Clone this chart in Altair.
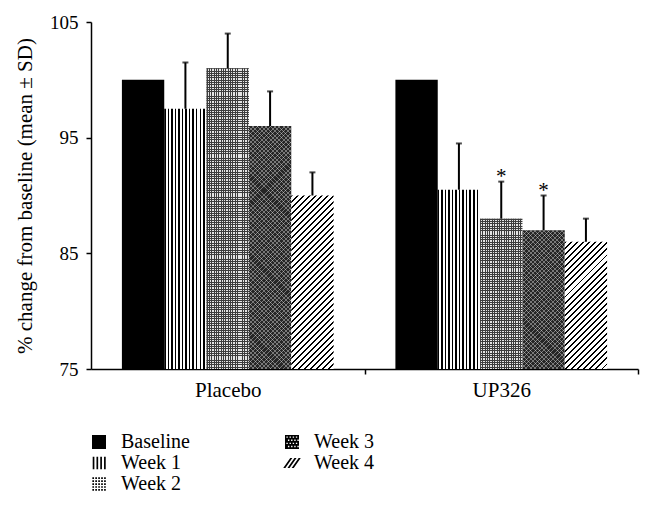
import altair as alt
import pandas as pd

# ---------------- data ----------------
groups = ["Placebo", "UP326"]
series = ["Baseline", "Week 1", "Week 2", "Week 3", "Week 4"]
placebo_mean = [100.0, 97.5, 101.0, 96.0, 90.0]
placebo_sd = [0.0, 4.0, 3.0, 3.0, 2.0]
up326_mean = [100.0, 90.5, 88.0, 87.0, 86.0]
up326_sd = [0.0, 4.0, 3.2, 3.0, 2.0]
placebo_sig = ["", "", "", "", ""]
up326_sig = ["", "", "*", "*", ""]
y_ticks = [75, 85, 95, 105]
y_title = "% change from baseline (mean ± SD)"

rows = []
for g, means, sds, sigs in [(groups[0], placebo_mean, placebo_sd, placebo_sig),
                            (groups[1], up326_mean, up326_sd, up326_sig)]:
    for s, m, sd, sig in zip(series, means, sds, sigs):
        rows.append({"group": g, "series": s, "mean": m, "sd": sd,
                     "upper": m + sd, "sig": sig})
df = pd.DataFrame(rows)

# ---------------- layout / style ----------------
FONT = "Liberation Serif"
PW, PH = 547, 347
Y0, Y1 = 75, 105
PAD_IN, PAD_OUT = 0.226, 0.113
STEP = PW / (len(groups) - PAD_IN + 2 * PAD_OUT)
BAR_W = STEP * (1 - PAD_IN) / len(series)
PX = PH / (Y1 - Y0)


def stripe_stops(n, frac, on, off):
    stops = []
    for i in range(n):
        a, b, c = i / n, (i + frac) / n, (i + 1) / n
        stops += [alt.GradientStop(color=on, offset=round(a, 5)),
                  alt.GradientStop(color=on, offset=round(b, 5)),
                  alt.GradientStop(color=off, offset=round(b, 5)),
                  alt.GradientStop(color=off, offset=round(min(c, 1.0), 5))]
    return stops


def vstripes(n, frac, on, off):
    return alt.LinearGradient(gradient="linear", stops=stripe_stops(n, frac, on, off),
                              x1=0, y1=0, x2=1, y2=0)


def hstripes(h, period, frac, on, off):
    n = max(1, round(h / period))
    return alt.LinearGradient(gradient="linear", stops=stripe_stops(n, frac, on, off),
                              x1=0, y1=0, x2=0, y2=1)


def diag(w, h, period, frac, on, off, slash=True):
    s = w + h
    d2 = w * w + h * h
    n = max(1, round(s / period))
    if slash:
        return alt.LinearGradient(gradient="linear", stops=stripe_stops(n, frac, on, off),
                                  x1=0, y1=0, x2=w * s / d2, y2=h * s / d2)
    return alt.LinearGradient(gradient="linear", stops=stripe_stops(n, frac, on, off),
                              x1=0, y1=1, x2=w * s / d2, y2=1 - h * s / d2)


# ticks sit on the boundaries between the category steps (as in the reference)
X = alt.X("group:N", sort=groups,
          scale=alt.Scale(paddingInner=PAD_IN, paddingOuter=PAD_OUT),
          axis=alt.Axis(title=None, labelAngle=0, tickOffset=STEP / 2,
                        labelOffset=-STEP / 2, labelFontSize=21, labelPadding=5))
XO = alt.XOffset("series:N", sort=series, scale=alt.Scale(paddingInner=0, paddingOuter=0))
Y = alt.Y("mean:Q", scale=alt.Scale(domain=[Y0, Y1], zero=False, nice=False),
          axis=alt.Axis(values=y_ticks, title=y_title, titleFontSize=21,
                        titleFontWeight="normal", titleX=-66, titleY=PH / 2,
                        titleBaseline="middle", titleAngle=270,
                        labelFontSize=19, labelPadding=8))

base = alt.Chart(df).encode(x=X, xOffset=XO)


def bars(filt, fill):
    return base.transform_filter(filt).mark_bar(fill=fill, strokeWidth=0).encode(
        y=Y, y2=alt.datum(Y0))


layers = []
layers.append(bars(alt.datum.series == "Baseline", "#000000"))
layers.append(bars(alt.datum.series == "Week 1", vstripes(12, 0.42, "#000000", "#ffffff")))

for g in groups:
    for s in ["Week 2", "Week 3", "Week 4"]:
        m = float(df[(df.group == g) & (df.series == s)]["mean"].iloc[0])
        h = (m - Y0) * PX
        filt = (alt.datum.group == g) & (alt.datum.series == s)
        if s == "Week 2":
            layers.append(bars(filt, vstripes(18, 0.42, "#3c3c3c", "#e4e4e4")))
            layers.append(bars(filt, hstripes(h, 2.3, 0.42, "#3c3c3c", "rgba(0,0,0,0)")))
        elif s == "Week 3":
            layers.append(bars(filt, "#262626"))
            layers.append(bars(filt, diag(BAR_W, h, 4.4, 0.22, "rgba(255,255,255,0.38)", "rgba(0,0,0,0)", True)))
            layers.append(bars(filt, diag(BAR_W, h, 4.4, 0.22, "rgba(255,255,255,0.38)", "rgba(0,0,0,0)", False)))
        else:
            layers.append(bars(filt, diag(BAR_W, h, 6.0, 0.32, "#000000", "#ffffff", True)))

err = base.transform_filter(alt.datum.sd > 0)
layers.append(err.mark_rule(color="black", strokeWidth=2).encode(y=Y, y2="upper:Q"))
layers.append(err.mark_tick(color="black", thickness=2, size=6).encode(y=alt.Y("upper:Q")))
layers.append(base.transform_filter(alt.datum.sig != "").mark_text(
    font=FONT, fontSize=21, color="black", baseline="alphabetic", dy=1).encode(
    y=alt.Y("upper:Q"), text="sig:N"))

# ---------------- legend (custom pattern symbols) ----------------
legend_order = series
p_base = "M-1,-1H1V1H-1Z"
p_w1 = "".join(f"M{x:.2f},-0.9H{x + 0.24:.2f}V0.9H{x:.2f}Z" for x in [-0.9, -0.36, 0.18, 0.72])
p_w2 = "".join(f"M{-0.95 + 0.42 * i:.2f},{-0.95 + 0.42 * j:.2f}h0.24v0.24h-0.24Z"
               for i in range(5) for j in range(5))
p_w3 = p_base + "".join(f"M{-0.8 + 0.45 * i + 0.22 * (j % 2):.2f},{-0.8 + 0.45 * j:.2f}v0.2h0.2v-0.2Z"
                        for i in range(4) for j in range(4))
p_w4 = "".join(f"M{c - 0.65:.2f},0.7L{c - 0.35:.2f},0.7L{c + 0.65:.2f},-0.7L{c + 0.35:.2f},-0.7Z"
               for c in [-0.6, 0.0, 0.6])
legend_paths = [p_base, p_w1, p_w2, p_w3, p_w4]

layers.append(base.mark_point(filled=True, opacity=0, color="black").encode(
    y=Y,
    shape=alt.Shape("series:N", scale=alt.Scale(domain=legend_order, range=legend_paths),
                    legend=alt.Legend(title=None, orient="none", legendX=-2, legendY=410,
                                      columns=2, symbolSize=196, symbolFillColor="black",
                                      symbolStrokeWidth=0, symbolOpacity=1,
                                      labelFont=FONT, labelFontSize=20, labelColor="black",
                                      labelOffset=12, columnPadding=92, rowPadding=1))))

chart = alt.layer(*layers).properties(
    width=PW, height=PH,
    autosize=alt.AutoSizeParams(type="none"),
    padding={"left": 83, "top": 14, "right": 7, "bottom": 140},
).configure_view(stroke=None).configure_axis(
    grid=False, domainColor="black", domainWidth=1.5, tickColor="black", tickWidth=1.5,
    tickSize=5, labelFont=FONT, titleFont=FONT, labelColor="black", titleColor="black",
)

chart.save("out.html", embed_options={"renderer": "svg", "actions": False})
